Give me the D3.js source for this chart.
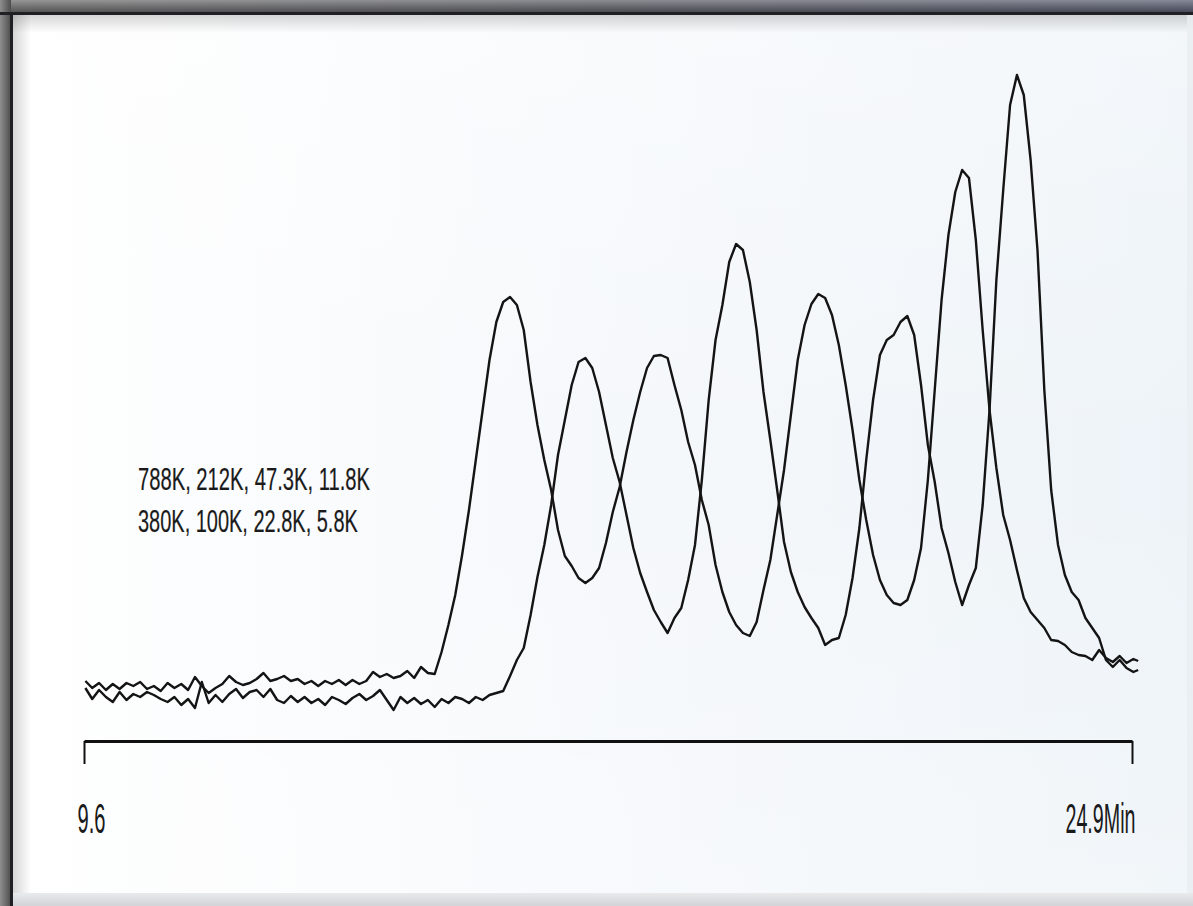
<!DOCTYPE html>
<html><head><meta charset="utf-8">
<script src="https://cdn.jsdelivr.net/npm/d3@7"></script>
<style>html,body{margin:0;padding:0;background:#fff;overflow:hidden}</style>
</head><body><svg id="c" width="1193" height="906"></svg>
<script>
// Retention time (min), shared sampling of both chromatograms
const times = [
 9.62,9.72,9.82,9.92,10.02,10.12,10.22,10.32,10.42,10.52,
 10.62,10.72,10.82,10.92,11.02,11.12,11.22,11.32,11.42,11.52,
 11.62,11.72,11.82,11.92,12.02,12.12,12.22,12.32,12.42,12.52,
 12.62,12.72,12.82,12.92,13.02,13.12,13.22,13.32,13.42,13.52,
 13.62,13.72,13.82,13.92,14.02,14.12,14.22,14.32,14.42,14.52,
 14.62,14.72,14.82,14.92,15.02,15.12,15.22,15.32,15.42,15.52,
 15.62,15.72,15.82,15.92,16.02,16.12,16.22,16.32,16.42,16.52,
 16.62,16.72,16.82,16.92,17.02,17.12,17.22,17.32,17.42,17.52,
 17.62,17.72,17.82,17.92,18.02,18.12,18.22,18.32,18.42,18.52,
 18.62,18.72,18.82,18.92,19.02,19.12,19.22,19.32,19.42,19.52,
 19.62,19.72,19.82,19.92,20.02,20.12,20.22,20.32,20.42,20.52,
 20.62,20.72,20.82,20.92,21.02,21.12,21.22,21.32,21.42,21.52,
 21.62,21.72,21.82,21.92,22.02,22.12,22.22,22.32,22.42,22.52,
 22.62,22.72,22.82,22.92,23.02,23.12,23.22,23.32,23.42,23.52,
 23.62,23.72,23.82,23.92,24.02,24.12,24.22,24.32,24.42,24.52,
 24.62,24.72,24.82,24.92,24.99
];
// Detector signal, standard set A (788K, 212K, 47.3K, 11.8K)
const signalA = [
 39,32,37,30,36,31,37,34,38,31,
 34,29,37,32,36,30,43,34,27,32,
 36,44,38,35,37,41,47,39,41,44,
 39,41,36,39,34,39,36,40,35,40,
 36,39,48,43,46,42,44,49,42,53,
 47,46,68,95,125,165,210,260,310,360,
 398,418,423,415,390,338,295,260,230,190,
 164,154,142,137,142,152,177,208,233,268,
 300,328,352,364,365,362,335,310,278,255,
 220,195,155,128,108,95,87,84,98,130,
 160,205,250,305,360,395,416,426,422,405,
 375,335,290,240,200,165,140,125,117,115,
 120,140,172,240,330,420,485,528,550,542,
 480,390,310,252,205,180,150,122,108,100,
 92,80,79,75,68,65,64,60,70,62,
 58,64,57,61,59
];
// Detector signal, standard set B (380K, 100K, 22.8K, 5.8K)
const signalB = [
 32,21,30,23,18,28,20,26,23,28,
 25,21,18,23,15,21,12,38,17,25,
 18,26,31,22,28,30,23,31,20,17,
 24,18,23,17,21,15,23,20,16,22,
 26,20,24,30,20,10,23,17,22,16,
 20,13,21,17,23,21,17,23,20,25,
 27,29,44,60,72,105,143,175,215,265,
 300,335,358,362,352,328,295,262,238,205,
 172,147,128,110,98,87,102,112,140,175,
 240,320,380,415,458,476,470,438,390,328,
 280,230,178,148,128,113,102,92,75,80,
 82,105,142,192,260,320,365,380,385,398,
 404,385,335,275,238,192,167,138,115,135,
 152,215,310,440,530,615,645,625,560,470,
 330,230,175,145,128,120,102,92,82,60,
 53,60,52,48,50
];
const annotations = ["788K, 212K, 47.3K, 11.8K", "380K, 100K, 22.8K, 5.8K"];
const tickValues = [9.6, 24.9];
const tickLabels = ["9.6", "24.9Min"];

const W = 1193, H = 906;
const svg = d3.select("#c");
const defs = svg.append("defs");

function lin(id, x1, y1, x2, y2, stops) {
  const g = defs.append("linearGradient").attr("id", id)
    .attr("x1", x1).attr("y1", y1).attr("x2", x2).attr("y2", y2);
  stops.forEach(s => g.append("stop").attr("offset", s[0]).attr("stop-color", s[1]).attr("stop-opacity", s[2] == null ? 1 : s[2]));
}
lin("frameTop", 0, 0, 1, 0, [[0, "#6e6e6e"], [0.5, "#5f6068"], [1, "#585d70"]]);
lin("frameTopShade", 0, 0, 0, 1, [[0, "#ffffff", 0.28], [1, "#000000", 0.25]]);
lin("frameLeft", 0, 0, 1, 0, [[0, "#8e8e8e"], [1, "#4c4c4c"]]);
lin("panel", 0, 0, 1, 0, [[0, "#ffffff"], [0.35, "#f8fafc"], [1, "#edf3f8"]]);
lin("panelV", 0, 0, 0, 1, [[0, "#ffffff", 0.35], [0.5, "#ffffff", 0], [1, "#ffffff", 0.25]]);
lin("shadowTop", 0, 0, 0, 1, [[0, "#000000", 0.16], [1, "#000000", 0]]);
lin("shadowLeft", 0, 0, 1, 0, [[0, "#000000", 0.16], [1, "#000000", 0]]);
lin("bottomBand", 0, 0, 0, 1, [[0, "#e9eaec"], [1, "#d2d3d6"]]);

svg.append("rect").attr("width", W).attr("height", H).attr("fill", "#666");
svg.append("rect").attr("x", 0).attr("y", 0).attr("width", W).attr("height", 13).attr("fill", "url(#frameTop)");
svg.append("rect").attr("x", 0).attr("y", 0).attr("width", W).attr("height", 13).attr("fill", "url(#frameTopShade)");
svg.append("rect").attr("x", 0).attr("y", 0).attr("width", 11).attr("height", H).attr("fill", "url(#frameLeft)");
svg.append("rect").attr("x", 0).attr("y", 12).attr("width", W).attr("height", 3).attr("fill", "#1f1f24");
svg.append("rect").attr("x", 10).attr("y", 12).attr("width", 3).attr("height", H).attr("fill", "#1f1f24");
svg.append("rect").attr("x", 13).attr("y", 15).attr("width", W - 13).attr("height", H - 15).attr("fill", "url(#panel)");
svg.append("rect").attr("x", 13).attr("y", 15).attr("width", W - 13).attr("height", H - 15).attr("fill", "url(#panelV)");
svg.append("rect").attr("x", 13).attr("y", 15).attr("width", W - 13).attr("height", 18).attr("fill", "url(#shadowTop)");
svg.append("rect").attr("x", 13).attr("y", 15).attr("width", 18).attr("height", H - 15).attr("fill", "url(#shadowLeft)");
svg.append("rect").attr("x", 13).attr("y", 893).attr("width", W - 13).attr("height", 13).attr("fill", "url(#bottomBand)");
svg.append("rect").attr("x", 1187).attr("y", 15).attr("width", 6).attr("height", 878).attr("fill", "#e8edf1").attr("opacity", 0.8);

const x = d3.scaleLinear().domain([9.6, 24.9]).range([84, 1132]);
const y = d3.scaleLinear().domain([0, 660]).range([720, 60]);

const lineGen = d3.line().x(d => x(d[0])).y(d => y(d[1])).curve(d3.curveLinear);

[signalB, signalA].forEach(sig => {
  svg.append("path")
    .datum(times.map((t, i) => [t, sig[i]]))
    .attr("fill", "none")
    .attr("stroke", "#141414")
    .attr("stroke-width", 2.4)
    .attr("stroke-linejoin", "round")
    .attr("d", lineGen);
});

const FONT = "'Liberation Sans Narrow', 'Liberation Sans', Arial, sans-serif";

// Fit a text element horizontally into [left, left+width] by a horizontal scale
function fitText(sel, left, baseline, width) {
  sel.attr("x", 0).attr("y", 0).attr("text-anchor", "start");
  const natural = sel.node().getComputedTextLength();
  const k = width / natural;
  sel.attr("transform", `translate(${left},${baseline}) scale(${k},1)`);
}

const axis = d3.axisBottom(x).tickValues(tickValues).tickSizeInner(23).tickSizeOuter(0)
  .tickFormat((d, i) => tickLabels[i]);
const ag = svg.append("g").attr("transform", "translate(0,741)").call(axis);
ag.select(".domain").attr("stroke", "#111").attr("stroke-width", 3);
ag.selectAll(".tick line").attr("stroke", "#111").attr("stroke-width", 2);
const labBox = [[-7, 28], [-67, 70]]; // offset from tick, width
ag.selectAll(".tick text")
  .attr("fill", "#1a1a1a")
  .attr("font-family", FONT)
  .attr("font-size", 43)
  .attr("dy", null)
  .each(function(d, i) { fitText(d3.select(this), labBox[i][0], 92, labBox[i][1]); });

const annW = [232, 220];
svg.append("g").selectAll("text").data(annotations).join("text")
  .attr("fill", "#1a1a1a")
  .attr("font-family", FONT)
  .attr("font-size", 32)
  .attr("stroke", "#1a1a1a").attr("stroke-width", 0.2)
  .text(d => d)
  .each(function(d, i) { fitText(d3.select(this), 138, 490 + i * 42, annW[i]); });
</script></body></html>
